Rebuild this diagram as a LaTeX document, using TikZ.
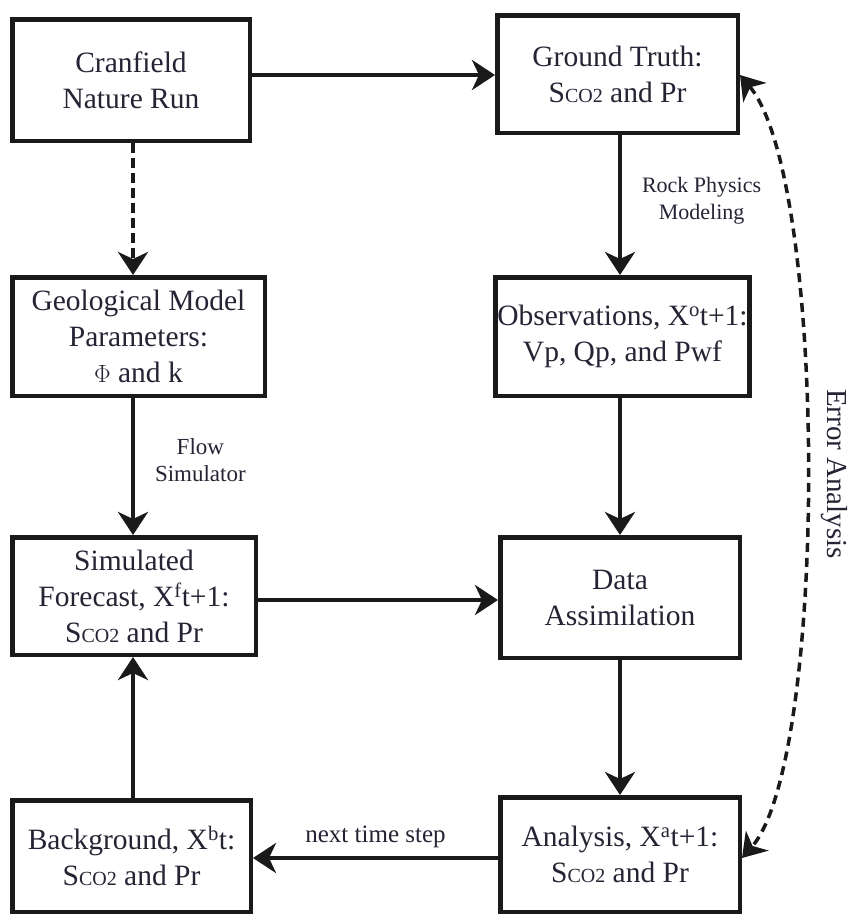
\documentclass[tikz,border=0pt]{standalone}
\usepackage{fontspec}
\setmainfont{Liberation Serif}
\usetikzlibrary{arrows.meta}
\definecolor{txt}{RGB}{38,36,52}
\definecolor{ln}{RGB}{26,26,26}
\newcommand\sco{S{\fontsize{20}{20}\selectfont CO2}}
\tikzset{
  box/.style={draw=ln, line width=4.5pt, rectangle, align=center, inner sep=2pt,
    text=txt, font=\fontsize{29.5}{36}\selectfont},
  arr/.style={draw=ln, line width=4pt, -{Stealth[length=23pt,width=30pt,inset=7pt]}},
  darr/.style={arr, dash pattern=on 10pt off 5pt},
  lbl/.style={text=txt, align=center, inner sep=0pt}
}
\begin{document}
\begin{tikzpicture}[x=1pt,y=-1pt]
\useasboundingbox (0,0) rectangle (851,918);
\fill[white] (0,0) rectangle (851,918);
% boxes
\node[box, minimum width=237.5pt, minimum height=121.5pt] (cran) at (131,80) {Cranfield\\Nature Run};
\node[box, minimum width=240.5pt, minimum height=117.5pt] (gt) at (617.5,74) {Ground Truth:\\\sco{} and Pr};
\node[box, minimum width=252.5pt, minimum height=118.5pt] (geo) at (138.5,336.5) {Geological Model\\Parameters:\\$\Phi$ and k};
\node[box, minimum width=240.5pt, minimum height=118.5pt] (obs) at (622.5,336.5) {Observations, X\textsuperscript{o}t+1:\\Vp, Qp, and Pwf};
\node[box, minimum width=243.5pt, minimum height=117.5pt] (sim) at (134,596) {Simulated\\Forecast, X\textsuperscript{f}t+1:\\\sco{} and Pr};
\node[box, minimum width=239.5pt, minimum height=120.5pt] (da) at (620,597.5) {Data\\Assimilation};
\node[box, minimum width=238.5pt, minimum height=111.5pt] (bg) at (131.5,856) {Background, X\textsuperscript{b}t:\\\sco{} and Pr};
\node[box, minimum width=239.5pt, minimum height=114.5pt] (an) at (620,854.5) {Analysis, X\textsuperscript{a}t+1:\\\sco{} and Pr};
% helper coordinates
\coordinate (xl) at (133,0);
\coordinate (xr) at (620,0);
\coordinate (ytop) at (0,75);
\coordinate (ymid) at (0,600);
\coordinate (ybot) at (0,858);
% connectors
\draw[arr] (cran.east |- ytop) -- (gt.west |- ytop);
\draw[darr] (cran.south -| xl) -- (geo.north -| xl);
\draw[arr] (gt.south -| xr) -- (obs.north -| xr)
  node[lbl, pos=0.47, right=20pt, font=\fontsize{22}{27}\selectfont] {Rock Physics\\Modeling};
\draw[arr] (geo.south -| xl) -- (sim.north -| xl)
  node[lbl, pos=0.45, right=20pt, font=\fontsize{23}{27}\selectfont] {Flow\\Simulator};
\draw[arr] (obs.south -| xr) -- (da.north -| xr);
\draw[arr] (sim.east |- ymid) -- (da.west |- ymid);
\draw[arr] (da.south -| xr) -- (an.north -| xr);
\draw[arr] (an.west |- ybot) -- (bg.east |- ybot)
  node[lbl, midway, above=8pt, font=\fontsize{25}{27}\selectfont] {next time step};
\draw[arr] (bg.north -| xl) -- (sim.south -| xl);
% error analysis
\draw[draw=ln, line width=3.5pt, dash pattern=on 9pt off 6pt,
  {Stealth[length=23pt,width=30pt,inset=7pt]}-{Stealth[length=23pt,width=30pt,inset=7pt]}]
  (gt.east |- ytop) .. controls (828,180) and (828,760) .. (an.east |- ybot);
\node[lbl, rotate=-90, font=\fontsize{29}{29}\selectfont] (ea) at (834,474) {Error Analysis};
\end{tikzpicture}
\end{document}
